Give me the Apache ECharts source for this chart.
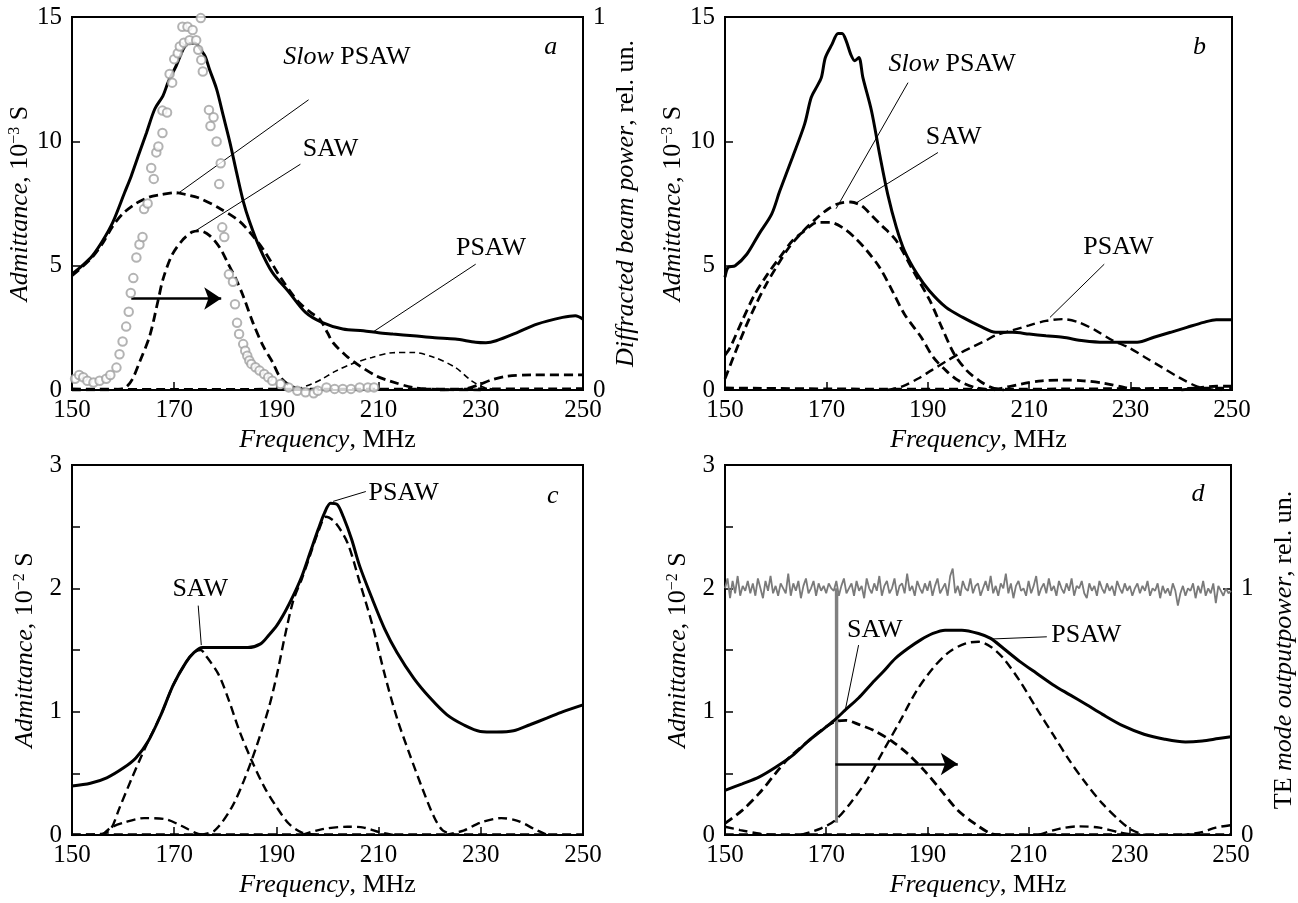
<!DOCTYPE html>
<html><head><meta charset="utf-8">
<script src="https://cdn.jsdelivr.net/npm/echarts@6/dist/echarts.min.js"></script>
<style>html,body{margin:0;padding:0;background:#fff}#c{width:1298px;height:903px}</style>
</head><body><div id="c"></div>
<script>
// ---------- Panel a (admittance, 1e-3 S; diffracted power, rel. un.) ----------
const aTotal = [[150,4.66],[152,5.0],[154,5.4],[156,6.0],[158,6.75],[160.3,7.94],[161.6,8.61],[163.2,9.55],[164.6,10.36],[166.2,11.3],[167.8,11.83],[168.8,12.37],[170.4,13.04],[172.4,13.9],[174,13.95],[175.5,13.6],[176.1,13.4],[176.9,12.9],[178.3,12.1],[179.6,11.03],[180.9,9.96],[182.2,8.75],[183.5,7.6],[184.7,6.8],[186.7,5.73],[189.2,4.73],[192.4,3.95],[195.7,3.12],[198.9,2.72],[203,2.45],[207,2.38],[210,2.3],[212.8,2.25],[216.8,2.18],[221,2.1],[225,2.05],[229,1.92],[231,1.9],[233,1.98],[237,2.3],[241,2.65],[246,2.92],[248.5,2.99],[250,2.85]];
const aSlow = [[150,4.6],[152,4.95],[154,5.35],[156,5.9],[158,6.6],[160,7.1],[162.5,7.5],[165,7.75],[167.3,7.85],[170.4,7.94],[172.4,7.85],[174.6,7.74],[178.6,7.34],[182.7,6.8],[185.1,6.27],[187.6,5.6],[190.8,4.53],[194.1,3.59],[196.5,3.15],[198.5,2.84],[200,2.3],[201.1,1.9],[203.7,1.37],[206.3,0.97],[209.6,0.56],[212.2,0.36],[216.8,0.1],[222,0.02],[230,0]];
const aSaw = [[150,0],[159,0.02],[160.5,0.1],[161.8,0.43],[163.2,1.11],[165.2,2.17],[166.9,3.65],[167.8,4.45],[169.5,5.4],[171.5,6.0],[173.5,6.35],[175,6.4],[177,6.2],[179,5.7],[180.5,5.1],[182,4.5],[183.5,3.78],[185.4,2.71],[187.4,1.77],[189.3,1.1],[190.6,0.56],[192.5,0.2],[194.5,0.05],[197,0]];
const aPsaw = [[190,0],[194,0.05],[197,0.25],[199,0.45],[201.5,0.75],[204.6,1.04],[208.7,1.31],[212.8,1.5],[216.8,1.51],[220.9,1.31],[225,0.91],[228.2,0.37],[230.7,0.1],[234,0]];
const aTail = [[222,0],[227,0.05],[229.5,0.2],[232,0.4],[235,0.55],[240,0.61],[250,0.61]];
const aBase = [[150,0.04],[170,0.02],[190,0.03],[210,0.03],[230,0.04],[250,0.05]];
const aCircles = [[150.6,0.03],[151.4,0.04],[152.2,0.034],[153.0,0.025],[154.2,0.02],[155.4,0.025],[156.7,0.03],[157.5,0.04],[158.7,0.06],[159.3,0.096],[159.9,0.13],[160.6,0.17],[161.1,0.21],[161.5,0.26],[162.0,0.30],[162.6,0.355],[163.2,0.39],[163.8,0.41],[164.1,0.485],[164.8,0.50],[165.5,0.595],[166.0,0.566],[166.5,0.637],[166.9,0.653],[167.7,0.689],[167.7,0.749],[168.6,0.744],[169.1,0.847],[169.6,0.824],[170.0,0.887],[170.7,0.903],[171.1,0.921],[171.9,0.931],[171.6,0.974],[172.6,0.974],[173.0,0.938],[173.6,0.965],[174.3,0.938],[174.7,0.912],[175.2,0.997],[175.3,0.885],[175.6,0.854],[176.8,0.751],[177.1,0.708],[177.7,0.731],[178.3,0.666],[178.8,0.552],[179.1,0.608],[179.4,0.436],[179.8,0.41],[180.7,0.31],[181.5,0.29],[181.9,0.23],[182.3,0.18],[182.7,0.15],[183.5,0.123],[183.9,0.105],[184.3,0.092],[184.7,0.079],[185.1,0.07],[185.9,0.061],[186.7,0.052],[187.6,0.043],[188.4,0.034],[189.2,0.025],[190.8,0.016],[192.4,0.007],[194.1,-0.002],[195.7,-0.006],[197.3,-0.009],[198.1,-0.002],[199.8,0.007],[201.4,0.003],[203.0,0.003],[204.6,0.003],[206.3,0.007],[207.9,0.007],[209.1,0.007]];

// ---------- Panel b ----------
const bTotal = [[150,4.53],[150.6,4.93],[152,5.0],[154.3,5.46],[156.7,6.27],[159.2,7.07],[160.8,8.0],[163.3,9.35],[165.7,10.69],[167,11.76],[168.2,12.23],[169,12.56],[169.8,13.37],[171.1,13.9],[172.3,14.34],[173.1,14.34],[173.9,14.04],[174.8,13.5],[175.6,13.24],[176.4,13.37],[177.2,12.56],[178.9,11.22],[180.5,9.48],[182.1,7.87],[183.8,6.54],[185.4,5.6],[187.9,4.66],[190.3,3.99],[193.6,3.32],[196.9,2.92],[200.2,2.58],[203.4,2.32],[206.7,2.32],[210,2.25],[213.3,2.18],[216.6,2.12],[220.7,1.98],[224.8,1.92],[228.9,1.92],[231.3,1.92],[234.6,2.12],[237.9,2.32],[241.1,2.52],[244.4,2.72],[246.9,2.83],[250,2.83]];
const bSlow = [[150,1.4],[151,1.7],[153.4,2.79],[155.9,3.86],[158.4,4.66],[160.8,5.33],[163.3,6.0],[165.7,6.4],[168.2,6.74],[170.7,6.74],[173.1,6.54],[175.6,6.13],[178,5.6],[180.5,4.93],[183,3.99],[185.4,3.05],[188.7,2.12],[191.1,1.31],[193.6,0.78],[196.1,0.37],[199.3,0.1],[202,0]];
const bSaw = [[150,0.45],[152,1.5],[154,2.5],[156,3.4],[158,4.2],[160,4.9],[162.5,5.7],[165,6.3],[168,6.9],[170.5,7.3],[172.5,7.5],[174.8,7.56],[177,7.4],[179,7.0],[181,6.6],[183.8,6.0],[187.1,4.8],[190.4,3.6],[192.8,2.5],[195.2,1.45],[197.7,0.78],[200.2,0.37],[202.6,0.1],[205,0]];
const bPsaw = [[182,0],[185,0.15],[188,0.45],[190.8,0.8],[193.6,1.15],[196.5,1.5],[199,1.75],[201.5,2.0],[203.4,2.2],[206.7,2.4],[210,2.6],[213.3,2.78],[216.6,2.85],[219.8,2.72],[223.1,2.4],[226.4,2.0],[229.7,1.7],[232.9,1.31],[236.2,0.91],[239.5,0.51],[242.8,0.17],[245.2,0.04],[248,0]];
const bHump = [[203,0],[208.4,0.24],[212.5,0.37],[216.6,0.4],[220.7,0.37],[224.8,0.27],[228.9,0.1],[232,0.02]];
const bTail = [[240,0],[244,0.1],[247,0.15],[250,0.15]];
const bBase = [[150,0.08],[175,0.04],[200,0.03],[225,0.05],[250,0.08]];

// ---------- Panel c (1e-2 S) ----------
const cTotal = [[150,0.397],[153.6,0.42],[156.8,0.464],[160.1,0.545],[162.5,0.625],[164.9,0.76],[167.4,0.974],[169.8,1.215],[172.3,1.40],[173.9,1.48],[175.5,1.52],[177.9,1.52],[181.2,1.52],[184.4,1.52],[186.9,1.55],[188.5,1.62],[190.1,1.70],[191.7,1.81],[193.3,1.94],[195,2.10],[196.6,2.29],[198.2,2.48],[199.4,2.61],[200.6,2.69],[201.9,2.68],[203.1,2.58],[204.7,2.40],[206.3,2.18],[208.8,1.91],[211.2,1.67],[213.6,1.48],[216.9,1.27],[220.1,1.11],[223.4,0.974],[226.6,0.894],[229.9,0.84],[233.1,0.835],[236.4,0.845],[239.6,0.894],[242.9,0.947],[246.1,1.0],[250,1.055]];
const cSaw = [[150,0],[156,0.01],[157.6,0.048],[159.3,0.22],[161.7,0.46],[163.7,0.65],[164.9,0.76],[167.4,0.974],[169.8,1.215],[172.3,1.40],[173.9,1.48],[175.2,1.5],[176.1,1.46],[178.7,1.30],[180.8,1.08],[182.8,0.84],[185.2,0.60],[187.7,0.384],[190.1,0.223],[192.5,0.089],[195,0.02],[198,0]];
const cPsaw = [[175,0],[177.9,0.035],[181.2,0.22],[183.6,0.437],[186,0.706],[188.5,1.03],[190.1,1.30],[191.7,1.62],[193.3,1.9],[195,2.08],[196.6,2.27],[198.2,2.46],[199.7,2.58],[201.4,2.54],[203.9,2.37],[206.3,2.05],[208.8,1.70],[211.2,1.30],[213.6,0.947],[216.1,0.652],[218.5,0.384],[220.9,0.142],[222.6,0.035],[225,0]];
const cHump1 = [[156,0],[157.6,0.06],[160.1,0.10],[164.1,0.137],[168.2,0.129],[171.4,0.075],[174.7,0.008],[177,0]];
const cHump2 = [[195,0],[199,0.048],[203.9,0.067],[207.1,0.06],[210.4,0.02],[213,0]];
const cHump3 = [[223,0],[226.6,0.035],[229.9,0.10],[234,0.137],[237.2,0.115],[240.5,0.048],[243,0]];
const cBase = [[150,0.005],[250,0.005]];

// ---------- Panel d (1e-2 S; TE mode output power, rel. un.) ----------
const dTotal = [[150,0.362],[153.4,0.415],[156.7,0.469],[160,0.549],[163.3,0.643],[166.5,0.763],[169.8,0.871],[171.8,0.938],[173.9,1.018],[176.4,1.111],[178.8,1.219],[181.3,1.326],[183.7,1.433],[186.2,1.514],[188.6,1.58],[191.1,1.634],[193.5,1.661],[196.8,1.661],[200.1,1.634],[202.5,1.594],[205,1.514],[208.3,1.406],[211.5,1.313],[214.8,1.219],[218.1,1.138],[221.4,1.058],[224.6,0.978],[228.7,0.884],[232.8,0.817],[236.9,0.777],[241,0.755],[244.3,0.763],[247.5,0.782],[250,0.796]];
const dSaw = [[150,0.094],[153.4,0.2],[156.7,0.335],[160,0.5],[162.4,0.616],[166.5,0.763],[169.8,0.871],[171.8,0.92],[173.9,0.93],[176.4,0.897],[179.6,0.844],[182.9,0.763],[186.2,0.656],[189.4,0.522],[192.7,0.362],[196,0.2],[199.3,0.094],[202.5,0.013],[205,0]];
const dPsaw = [[165,0],[169,0.054],[171.8,0.12],[174.7,0.254],[178,0.442],[181.3,0.683],[184.6,0.924],[187.8,1.165],[191.1,1.353],[194.4,1.487],[197.6,1.554],[200.1,1.567],[202.5,1.527],[205,1.433],[208.3,1.246],[211.5,1.031],[214.8,0.817],[218.1,0.603],[221.4,0.415],[224.6,0.254],[227.9,0.121],[230.4,0.04],[233,0]];
const dLow = [[150,0.067],[153,0.04],[157,0.01],[160,0]];
const dHump = [[212,0],[216,0.05],[220,0.07],[224,0.06],[228,0.02],[231,0]];
const dTail = [[240,0],[244,0.02],[247,0.06],[250,0.08]];
const dBase = [[150,0.005],[250,0.005]];
const teStart = 150, teStep = 0.5;
const teVals = [
1.00,1.04,0.96,1.03,0.98,1.05,0.97,1.01,0.99,1.03,
0.98,1.02,0.97,1.04,1.00,0.96,1.03,0.99,1.05,0.98,
1.01,0.97,1.02,1.00,0.98,1.06,0.97,1.02,0.99,1.03,
0.96,1.01,1.04,0.98,1.00,1.03,0.97,1.02,0.99,1.01,
0.98,1.02,1.00,0.99,1.03,0.97,1.01,1.04,0.98,1.00,
1.02,0.97,1.03,0.99,1.01,0.96,1.04,1.00,0.98,1.02,
0.99,1.05,0.97,1.01,1.03,0.98,1.00,1.04,0.97,1.01,
1.02,0.98,1.06,0.99,1.01,0.97,1.03,1.00,0.98,1.02,
0.99,1.03,0.97,1.01,1.04,0.98,1.00,1.02,0.97,1.05,
1.08,0.98,1.01,0.97,1.03,1.00,0.99,1.04,0.98,1.01,
1.02,0.97,1.00,1.03,0.99,1.05,0.98,1.01,0.97,1.02,
1.00,1.06,0.98,1.02,0.96,1.01,1.03,0.99,1.00,0.97,
1.03,0.98,1.01,1.05,0.97,1.00,1.02,0.98,1.04,0.99,
1.01,0.97,1.03,1.00,0.98,1.02,0.99,1.04,0.97,1.01,
1.00,1.03,0.98,0.96,1.02,0.99,1.01,0.97,1.03,1.00,
0.98,1.02,0.99,1.01,0.97,1.03,1.00,0.98,1.02,0.99,
1.01,0.97,1.00,1.02,0.98,1.01,0.99,1.03,0.97,1.00,
0.99,1.02,0.96,1.01,0.98,1.00,0.97,1.02,0.99,0.93,
0.98,1.01,0.97,1.00,0.99,1.02,0.96,1.01,0.98,1.03,
0.97,1.00,0.98,1.02,0.94,1.01,0.99,0.97,1.00,0.98,
0.99];
const teDrop = [[172.0,1.0],[172.05,0.05],[172.1,0.98]];

// ---------- tick labels ----------
const xTicks = [150,170,190,210,230,250];

// ---------- helpers ----------
const F = 'Liberation Serif';
function rich(size){
  return {
    i:{fontFamily:F,fontStyle:'italic',fontSize:size,color:'#000'},
    sup:{fontFamily:F,fontSize:Math.round(size*0.62),color:'#000',verticalAlign:'top'}
  };
}
const LABEL = {fontFamily:F,fontSize:25,color:'#000'};
const NAME = {fontFamily:F,fontSize:26,color:'#000',rich:rich(26)};
const TICK = {inside:true,length:8,lineStyle:{color:'#000',width:1.5}};

function xAx(gi){
  return {type:'value',gridIndex:gi,min:150,max:250,interval:20,
    axisLine:{show:false},axisTick:TICK,splitLine:{show:false},
    axisLabel:Object.assign({margin:8,formatter:v=>xTicks.indexOf(v)>=0?String(v):''},LABEL),
    name:'{i|Frequency}, MHz',nameLocation:'middle',nameGap:37,nameTextStyle:NAME};
}
function yAx(gi,pos,max,interval,name,gap,fmt){
  return {type:'value',gridIndex:gi,position:pos,min:0,max:max,interval:interval,
    axisLine:{show:false},axisTick:TICK,splitLine:{show:false},
    axisLabel:Object.assign({margin:10,formatter:fmt||(v=>String(v))},LABEL),
    name:name,nameLocation:'middle',nameRotate:90,nameGap:gap,nameTextStyle:NAME};
}
function line(data,xi,yi,width,dash,z){
  return {type:'line',data:data,xAxisIndex:xi,yAxisIndex:yi,symbol:'none',smooth:0.3,
    silent:true,z:z||2,lineStyle:{color:'#000',width:width,type:dash?dash:'solid'}};
}
function notes(list){
  return {silent:true,symbol:'circle',symbolSize:1,itemStyle:{color:'rgba(0,0,0,0)'},
    label:{show:true,position:'inside',fontFamily:F,fontSize:26,color:'#000',rich:rich(26)},
    data:list.map(n=>({coord:[n[0],n[1]],label:{formatter:n[2],fontSize:n[3]||26}}))};
}
function leaders(list){
  return {silent:true,symbol:['none','none'],label:{show:false},
    lineStyle:{color:'#000',width:1,type:'solid'},
    data:list.map(l=>[{coord:[l[0],l[1]]},{coord:[l[2],l[3]]}])};
}
function arrow(f1,f2,y){
  return {silent:true,symbol:['none','arrow'],symbolSize:17,label:{show:false},
    lineStyle:{color:'#000',width:2.5,type:'solid'},
    data:[[{coord:[f1,y]},{coord:[f2,y]}]]};
}
const intFmt = v => (Math.abs(v-Math.round(v))<1e-9 ? String(Math.round(v)) : '');
const rightFmt = v => (v===0||v===1) ? String(v) : '';
const DASH = [9,5];
const W = 2.8;

const teData = teVals.map((v,i)=>[teStart+i*teStep,v]);

const grids = [
  {left:72,top:17,width:511,height:373},
  {left:725,top:17,width:507,height:373},
  {left:72,top:465,width:511,height:370},
  {left:725,top:465,width:507,height:370}
].map(g=>Object.assign({show:true,borderColor:'#000',borderWidth:2,backgroundColor:'rgba(0,0,0,0)'},g));

const sA = line(aTotal,0,0,3);
sA.markPoint = notes([[203.8,13.4,'{i|Slow} PSAW'],[200.6,9.7,'SAW'],[232,5.7,'PSAW'],[243.7,13.8,'{i|a}',27]]);
sA.markLine = leaders([[196.3,11.67,170.5,7.87],[194.7,9.08,173.7,6.34],[229,5.06,209.1,2.36]]);
const sASaw = line(aSaw,0,0,W,DASH);
sASaw.markLine = arrow(161.6,179.2,3.68);

const sB = line(bTotal,1,2,3);
sB.markPoint = notes([[194.8,13.1,'{i|Slow} PSAW'],[195.1,10.15,'SAW'],[227.6,5.73,'PSAW'],[243.6,13.8,'{i|b}',27]]);
sB.markLine = leaders([[186.1,12.36,171.9,7.29],[192,9.55,176,7.54],[224.8,5.06,214.1,2.92]]);

const sC = line(cTotal,2,3,3);
sC.markPoint = notes([[175.1,1.99,'SAW'],[214.9,2.77,'PSAW'],[244.1,2.745,'{i|c}',27]]);
sC.markLine = leaders([[174.7,1.86,175.3,1.54],[207.5,2.785,201.1,2.705]]);

const sD = line(dTotal,3,4,3);
sD.markPoint = notes([[179.6,1.66,'SAW'],[221.4,1.62,'PSAW'],[243.5,2.76,'{i|d}',27]]);
sD.markLine = leaders([[176.4,1.54,173.7,1.0],[213.6,1.607,202.5,1.589]]);
const sDSaw = line(dSaw,3,4,W,DASH);
sDSaw.markLine = arrow(171.8,196,0.576);

const teSeries = {type:'line',data:teData,xAxisIndex:3,yAxisIndex:5,symbol:'none',silent:true,z:1,
  lineStyle:{color:'#7a7a7a',width:1.8}};
const teDropSeries = {type:'line',data:teDrop,xAxisIndex:3,yAxisIndex:5,symbol:'none',silent:true,z:1,
  lineStyle:{color:'#808080',width:3}};

const circles = {type:'scatter',data:aCircles,xAxisIndex:0,yAxisIndex:1,symbol:'emptyCircle',symbolSize:8.5,
  silent:true,z:5,clip:false,itemStyle:{color:'#a0a0a0',borderColor:'#a0a0a0',borderWidth:1.7}};

const option = {
  animation:false,
  backgroundColor:'#fff',
  grid:grids,
  xAxis:[xAx(0),xAx(1),xAx(2),xAx(3)],
  yAxis:[
    yAx(0,'left',15,5,'{i|Admittance}, 10{sup|\u22123} S',34),
    yAx(0,'right',1,1,'{i|Diffracted beam power}, rel. un.',30),
    yAx(1,'left',15,5,'{i|Admittance}, 10{sup|\u22123} S',34),
    yAx(2,'left',3,0.5,'{i|Admittance}, 10{sup|\u22122} S',34,intFmt),
    yAx(3,'left',3,0.5,'{i|Admittance}, 10{sup|\u22122} S',34,intFmt),
    yAx(3,'right',1.5,1,'TE {i|mode outputpower}, rel. un.',40,rightFmt)
  ],
  series:[
    line(aBase,0,0,W,DASH), line(aTail,0,0,W,DASH),
    line(aPsaw,0,0,1.6,[6,4]), line(aSlow,0,0,W,DASH), sASaw, sA, circles,
    line(bBase,1,2,W,DASH), line(bTail,1,2,W,DASH), line(bHump,1,2,W,DASH),
    line(bPsaw,1,2,2.4,DASH), line(bSlow,1,2,W,DASH), line(bSaw,1,2,W,DASH), sB,
    line(cBase,2,3,2.2,DASH), line(cHump1,2,3,2.4,DASH), line(cHump2,2,3,2.4,DASH), line(cHump3,2,3,2.4,DASH),
    line(cSaw,2,3,2.4,DASH), line(cPsaw,2,3,2.4,DASH), sC,
    teSeries, teDropSeries,
    line(dBase,3,4,2.2,DASH), line(dLow,3,4,2.4,DASH), line(dHump,3,4,2.4,DASH), line(dTail,3,4,2.4,DASH),
    line(dPsaw,3,4,2.4,DASH), sDSaw, sD
  ]
};
const chart = echarts.init(document.getElementById('c'),null,{renderer:'canvas'});
chart.setOption(option);
</script></body></html>
